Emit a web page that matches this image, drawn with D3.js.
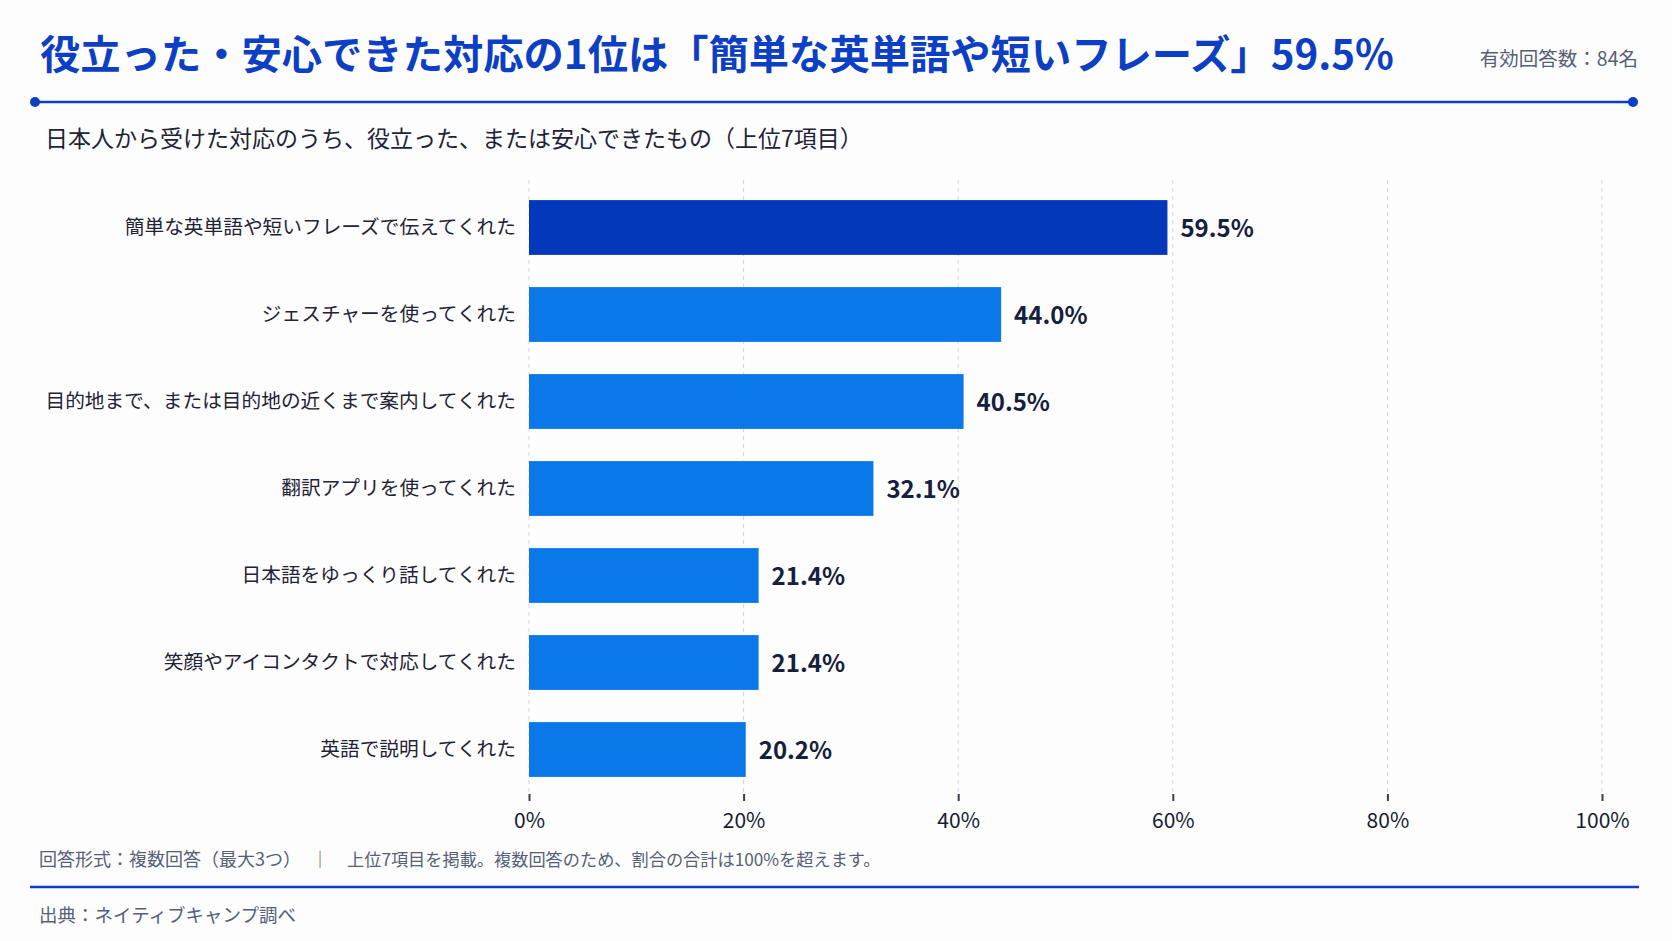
<!DOCTYPE html>
<html>
<head>
<meta charset="utf-8">
<script src="https://cdn.jsdelivr.net/npm/d3@7"></script>
<style>
  body { margin: 0; background: #fdfdfe; }
  svg text { font-family: "Noto Sans CJK JP", "Noto Sans", sans-serif; }
</style>
</head>
<body>
<div class="chart"></div>
<script>
// data
const categories = [
  "簡単な英単語や短いフレーズで伝えてくれた",
  "ジェスチャーを使ってくれた",
  "目的地まで、または目的地の近くまで案内してくれた",
  "翻訳アプリを使ってくれた",
  "日本語をゆっくり話してくれた",
  "笑顔やアイコンタクトで対応してくれた",
  "英語で説明してくれた"
];
const values = [59.5, 44.0, 40.5, 32.1, 21.4, 21.4, 20.2];
const tickValues = [0, 20, 40, 60, 80, 100];

const titleText = "役立った・安心できた対応の1位は「簡単な英単語や短いフレーズ」59.5%";
const countText = "有効回答数：84名";
const subtitleText = "日本人から受けた対応のうち、役立った、または安心できたもの（上位7項目）";
const noteLeft = "回答形式：複数回答（最大3つ）";
const noteRight = "上位7項目を掲載。複数回答のため、割合の合計は100%を超えます。";
const sourceText = "出典：ネイティブキャンプ調べ";

var width = 1672, height = 941;
var blue = "#0d3fc4", darkBar = "#0238b9", lightBar = "#0a78e8";

var svg = d3.select(".chart")
  .append("svg")
  .attr("width", width)
  .attr("height", height);

svg.append("rect").attr("width", width).attr("height", height).attr("fill", "#fdfdfe");

// header
svg.append("text")
  .attr("x", 40).attr("y", 51)
  .attr("dominant-baseline", "central")
  .attr("fill", blue)
  .style("font-size", "40.3px").style("font-weight", 700)
  .text(titleText);

svg.append("text")
  .attr("x", 1638).attr("y", 57)
  .attr("text-anchor", "end")
  .attr("dominant-baseline", "central")
  .attr("fill", "#566074")
  .style("font-size", "19.5px")
  .text(countText);

svg.append("line")
  .attr("x1", 35).attr("x2", 1633).attr("y1", 102).attr("y2", 102)
  .attr("stroke", blue).attr("stroke-width", 2.5);
svg.selectAll("circle.end").data([35, 1633]).enter().append("circle")
  .attr("class", "end")
  .attr("cx", d => d).attr("cy", 102).attr("r", 5)
  .attr("fill", blue);

svg.append("text")
  .attr("x", 45).attr("y", 137)
  .attr("dominant-baseline", "central")
  .attr("fill", "#1e2434")
  .style("font-size", "23px")
  .text(subtitleText);

// scales
var x = d3.scaleLinear().domain([0, 100]).range([529, 1602]);
var y = d3.scaleBand()
  .domain(categories)
  .range([184, 793])
  .paddingInner(0.37)
  .paddingOuter(0.185);

// grid
var gridTop = 180, gridBottom = 794;
svg.append("g").selectAll("line")
  .data(tickValues).enter().append("line")
  .attr("x1", d => x(d)).attr("x2", d => x(d))
  .attr("y1", gridTop).attr("y2", gridBottom)
  .attr("stroke", "#d3d7df")
  .attr("stroke-width", 1)
  .attr("stroke-dasharray", "4,4");

// x axis (ticks + labels)
var xAxis = svg.append("g")
  .attr("transform", "translate(0," + gridBottom + ")")
  .call(d3.axisBottom(x).tickValues(tickValues).tickSize(7).tickPadding(12).tickFormat(d => d + "%"));
xAxis.select(".domain").remove();
xAxis.selectAll(".tick line").attr("stroke", "#3a3f4c").attr("stroke-width", 2);
xAxis.selectAll(".tick text")
  .attr("fill", "#171c33")
  .style("font-size", "21px")
  .style("font-family", "'Noto Sans CJK JP', sans-serif");

// bars
svg.append("g").selectAll("rect")
  .data(values).enter().append("rect")
  .attr("x", x(0))
  .attr("y", (d, i) => y(categories[i]))
  .attr("width", d => x(d) - x(0))
  .attr("height", y.bandwidth())
  .attr("fill", (d, i) => i == 0 ? darkBar : lightBar);

// category labels
svg.append("g").selectAll("text")
  .data(categories).enter().append("text")
  .attr("x", 516)
  .attr("y", d => y(d) + y.bandwidth() / 2 - 2)
  .attr("text-anchor", "end")
  .attr("dominant-baseline", "central")
  .attr("fill", "#1f2333")
  .style("font-size", "19.7px")
  .text(d => d);

// value labels
svg.append("g").selectAll("text")
  .data(values).enter().append("text")
  .attr("x", d => x(d) + 13)
  .attr("y", (d, i) => y(categories[i]) + y.bandwidth() / 2 - 1)
  .attr("dominant-baseline", "central")
  .attr("fill", "#16203c")
  .style("font-size", "24px").style("font-weight", 700)
  .text(d => d.toFixed(1) + "%");

// footer
svg.append("text")
  .attr("x", 39).attr("y", 858)
  .attr("dominant-baseline", "central")
  .attr("fill", "#566074")
  .style("font-size", "18px")
  .text(noteLeft);
svg.append("text")
  .attr("x", 320).attr("y", 858)
  .attr("text-anchor", "middle")
  .attr("dominant-baseline", "central")
  .attr("fill", "#566074")
  .style("font-size", "17.5px")
  .text("｜");
svg.append("text")
  .attr("x", 347).attr("y", 858)
  .attr("dominant-baseline", "central")
  .attr("fill", "#566074")
  .style("font-size", "17.2px")
  .text(noteRight);

svg.append("line")
  .attr("x1", 30).attr("x2", 1639).attr("y1", 887).attr("y2", 887)
  .attr("stroke", blue).attr("stroke-width", 2.5);

svg.append("text")
  .attr("x", 39).attr("y", 914)
  .attr("dominant-baseline", "central")
  .attr("fill", "#566074")
  .style("font-size", "18.5px")
  .text(sourceText);
</script>
</body>
</html>
